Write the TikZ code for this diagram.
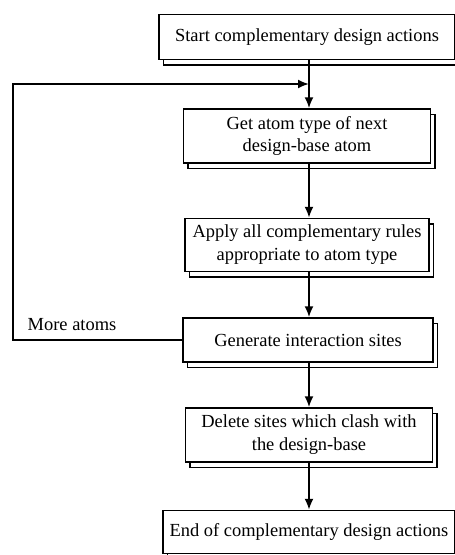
\documentclass[tikz,border=0pt]{standalone}
\usepackage{fontspec}
\setmainfont{Liberation Serif}
\usetikzlibrary{shadows,arrows.meta}

\begin{document}
\begin{tikzpicture}[x=0.02cm, y=-0.02cm,
		stepbox/.style={draw, fill=white, thick, align=center, inner sep=2pt,
			font=\fontsize{10.5}{13}\selectfont,
			copy shadow={shadow xshift=0.09cm, shadow yshift=-0.11cm}},
		flow/.style={-{Latex[length=2.2mm,width=1.8mm]}, line width=1.1pt}]
	\useasboundingbox (0,0) rectangle (455,555);
	% Nodes
	\node[stepbox, minimum width=296*0.02cm, minimum height=45*0.02cm] (start) at (307,37) {Start complementary design actions};
	\node[stepbox, minimum width=247*0.02cm, minimum height=54*0.02cm] (gettype) at (307,136) {Get atom type of next\\design-base atom};
	\node[stepbox, minimum width=244*0.02cm, minimum height=53*0.02cm] (apply) at (307,245) {Apply all complementary rules\\appropriate to atom type};
	\node[stepbox, minimum width=250*0.02cm, minimum height=44*0.02cm] (gen) at (308,340) {Generate interaction sites};
	\node[stepbox, minimum width=247*0.02cm, minimum height=54*0.02cm] (delete) at (309,435) {Delete sites which clash with\\the design-base};
	\node[stepbox, minimum width=292*0.02cm, minimum height=43*0.02cm] (finish) at (309,532) {End of complementary design actions};
	\node[font=\fontsize{10.5}{13}\selectfont] (more) at (72,325) {More atoms};
	\coordinate (merge) at (309,84);
	% Edges
	\draw[flow] (start.south -| merge) -- (gettype.north -| merge);
	\draw[flow] (gettype.south -| merge) -- (apply.north -| merge);
	\draw[flow] (apply.south -| merge) -- (gen.north -| merge);
	\draw[flow] (gen.south -| merge) -- (delete.north -| merge);
	\draw[flow] (delete.south -| merge) -- (finish.north -| merge);
	\draw[flow] (gen.west) -- (13,340) |- (merge);
\end{tikzpicture}
\end{document}
